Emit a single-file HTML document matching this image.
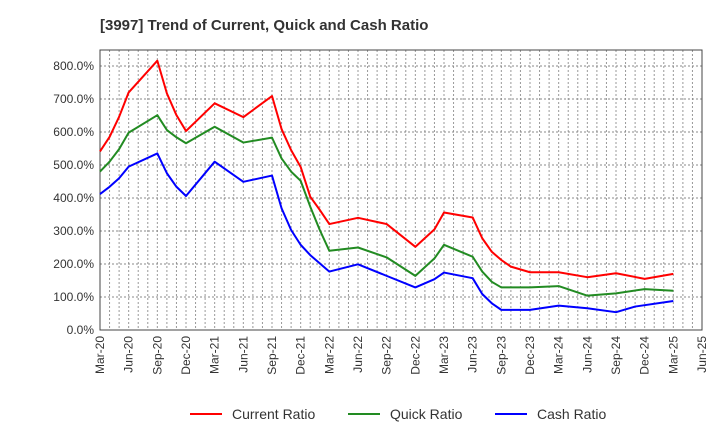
<!DOCTYPE html>
<html><head><meta charset="utf-8"><style>
body{margin:0;background:#fff;font-family:"Liberation Sans",sans-serif;}
svg text{font-family:"Liberation Sans",sans-serif;}
</style></head><body>
<svg id="chart" width="720" height="440">
<text x="100" y="30" font-size="15" font-weight="bold" fill="#333">[3997]  Trend of Current, Quick and Cash Ratio</text>
<g id="grid"></g><g id="axes"></g><g id="series"></g><g id="legend"></g>
</svg>
<script>
const yTicks=[0,100,200,300,400,500,600,700,800];
const xLabels=["Mar-20","Jun-20","Sep-20","Dec-20","Mar-21","Jun-21","Sep-21","Dec-21","Mar-22","Jun-22","Sep-22","Dec-22","Mar-23","Jun-23","Sep-23","Dec-23","Mar-24","Jun-24","Sep-24","Dec-24","Mar-25","Jun-25"];
const currentMonths=[0,1,2,3,6,7,8,9,12,15,18,19,20,21,22,23,24,27,30,33,35,36,39,40,41,42,43,45,48,51,54,57,60];
const currentVals=[541,585,646,720,816,717,651,603,687,645,709,609,545,494,404,364,321,340,321,252,305,356,341,278,237,212,192,175,175,160,172,155,170];
const quickMonths=[0,1,2,3,6,7,8,9,12,15,18,19,20,21,22,23,24,27,30,33,35,36,39,40,41,42,45,48,51,54,57,60];
const quickVals=[480,510,548,598,651,606,584,566,616,568,583,520,480,452,374,303,240,250,220,164,217,258,222,177,146,129,129,133,104,111,124,119];
const cashMonths=[0,1,2,3,6,7,8,9,12,15,18,19,20,21,22,24,27,30,33,35,36,39,40,41,42,45,48,51,54,56,60];
const cashVals=[412,434,460,495,535,475,434,406,510,449,468,369,303,258,227,177,199,164,129,154,174,157,109,81,61,61,74,66,54,71,88];
const L=100,R=702,T=50,B=330;
const xs=m=>L+m*(R-L)/63;
const ys=v=>B-v*(B-66)/800;
const NS="http://www.w3.org/2000/svg";
function mk(tag,attrs,parent){const e=document.createElementNS(NS,tag);for(const k in attrs)e.setAttribute(k,attrs[k]);parent.appendChild(e);return e;}
const grid=document.getElementById('grid'),axes=document.getElementById('axes'),ser=document.getElementById('series'),leg=document.getElementById('legend');
for(let m=1;m<63;m++){const l=mk('line',{x1:xs(m),x2:xs(m),y1:T,y2:B,stroke:'#999','stroke-dasharray':'2,2','stroke-width':1},grid);

}
yTicks.forEach(v=>{const l=mk('line',{x1:L,x2:R,y1:ys(v),y2:ys(v),stroke:'#888','stroke-dasharray':'2,2','stroke-width':1},grid);


const t=mk('text',{x:L-6,y:ys(v)+4,'text-anchor':'end','font-size':12,fill:'#333'},axes);t.textContent=v.toFixed(1)+'%';

});
const frame=mk('rect',{x:L,y:T,width:R-L,height:B-T,fill:'none',stroke:'#444','stroke-width':1},axes);


xLabels.forEach((s,i)=>{const x=xs(i*3);const t=mk('text',{x:x+4,y:B+6,'text-anchor':'end','font-size':12,fill:'#333',transform:`rotate(-90 ${x+4} ${B+6})`},axes);t.textContent=s;

});
function line(ms,vs,color,name){const p=mk('polyline',{points:ms.map((m,i)=>xs(m)+','+ys(vs[i])).join(' '),fill:'none',stroke:color,'stroke-width':2,'stroke-linejoin':'round'},ser);

}
line(currentMonths,currentVals,'#ff0000','current-ratio-line');
line(quickMonths,quickVals,'#228b22','quick-ratio-line');
line(cashMonths,cashVals,'#0000ff','cash-ratio-line');
[['Current Ratio','#ff0000',190],['Quick Ratio','#228b22',348],['Cash Ratio','#0000ff',495]].forEach(([n,c,x])=>{
const g=mk('g',{},leg);


mk('line',{x1:x,x2:x+32,y1:414,y2:414,stroke:c,'stroke-width':2},g);
const t=mk('text',{x:x+42,y:419,'font-size':14,fill:'#333'},g);t.textContent=n;});
</script>
</body></html>
